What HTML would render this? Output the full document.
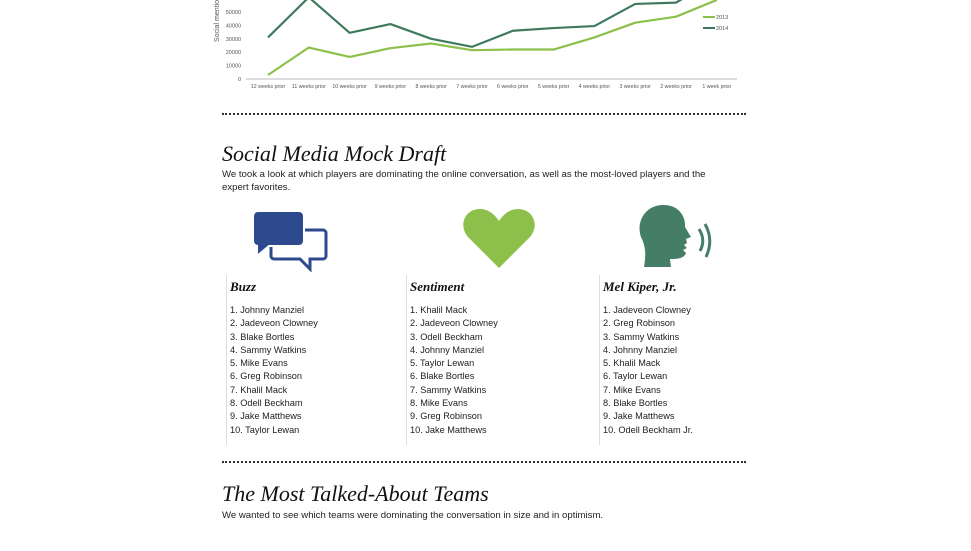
<!DOCTYPE html>
<html><head><meta charset="utf-8"><style>
body{margin:0;width:971px;height:551px;background:#fff;position:relative;overflow:hidden;font-family:"Liberation Sans",sans-serif;color:#222}
.abs{position:absolute}
.dots{position:absolute;left:222px;width:524px;height:0;border-top:2.5px dotted #333}
h2{position:absolute;margin:0;font-family:"Liberation Serif",serif;font-style:italic;font-weight:normal;font-size:22px;color:#111;white-space:nowrap}
.p{position:absolute;font-size:9.6px;line-height:13px;color:#222}
.col{position:absolute;top:275px;height:170px;border-left:1px solid #ddd}
.col h3{margin:4px 0 0 3px;font-family:"Liberation Serif",serif;font-style:italic;font-weight:bold;font-size:13px;color:#111}
.col ol{list-style:none;margin:9px 0 0 3px;padding:0;font-size:9.2px;line-height:13.3px;color:#222}
</style></head><body>
<svg id="chart" class="abs" style="left:0;top:0" width="971" height="100"></svg>
<div class="dots" style="top:113px"></div>
<h2 style="left:222px;top:141px">Social Media Mock Draft</h2>
<div class="p" style="left:222px;top:168px;width:505px">We took a look at which players are dominating the online conversation, as well as the most-loved players and the expert favorites.</div>
<svg class="abs" style="left:250px;top:208px" width="80" height="64">
<path d="M24 22 H73 a3 3 0 0 1 3 3 V48 a3 3 0 0 1 -3 3 H60 V61 L50 51 H24 a3 3 0 0 1 -3 -3 V25 a3 3 0 0 1 3 -3Z" fill="none" stroke="#2e4a8e" stroke-width="3"/>
<path d="M8 3 H49 a5 5 0 0 1 5 5 V33 a5 5 0 0 1 -5 5 H19 L7 48 V38 H8 a5 5 0 0 1 -5 -5 V8 a5 5 0 0 1 5 -5Z" fill="#2e4a8e" stroke="#fff" stroke-width="2"/>
</svg>
<svg class="abs" style="left:462px;top:207px" width="74" height="62">
<path d="M37 61 L6 30 C-4 18 3 2 18 2 C27 2 33 8 37 14 C41 8 47 2 56 2 C71 2 78 18 68 30Z" fill="#8cc04b"/>
</svg>
<svg class="abs" style="left:638px;top:203px" width="80" height="66">
<path d="M6 64 C8 52 8 44 3 34 C-2 20 6 3 24 2 C40 1 48 13 47 24 L53 34 L48 36 L49 40 L46 42 L49 45 L45 47 L48 50 C46 56 38 56 32 56 L33 64Z" fill="#457e66"/>
<path d="M61 26 Q68 37 62 48" fill="none" stroke="#457e66" stroke-width="3"/>
<path d="M67 21 Q76 37 68 54" fill="none" stroke="#457e66" stroke-width="3"/>
</svg>
<div class="col" style="left:226px;width:180px"><h3>Buzz</h3><ol>
<li>1. Johnny Manziel</li><li>2. Jadeveon Clowney</li><li>3. Blake Bortles</li><li>4. Sammy Watkins</li><li>5. Mike Evans</li><li>6. Greg Robinson</li><li>7. Khalil Mack</li><li>8. Odell Beckham</li><li>9. Jake Matthews</li><li>10. Taylor Lewan</li></ol></div>
<div class="col" style="left:406px;width:190px"><h3>Sentiment</h3><ol>
<li>1. Khalil Mack</li><li>2. Jadeveon Clowney</li><li>3. Odell Beckham</li><li>4. Johnny Manziel</li><li>5. Taylor Lewan</li><li>6. Blake Bortles</li><li>7. Sammy Watkins</li><li>8. Mike Evans</li><li>9. Greg Robinson</li><li>10. Jake Matthews</li></ol></div>
<div class="col" style="left:599px;width:150px"><h3>Mel Kiper, Jr.</h3><ol>
<li>1. Jadeveon Clowney</li><li>2. Greg Robinson</li><li>3. Sammy Watkins</li><li>4. Johnny Manziel</li><li>5. Khalil Mack</li><li>6. Taylor Lewan</li><li>7. Mike Evans</li><li>8. Blake Bortles</li><li>9. Jake Matthews</li><li>10. Odell Beckham Jr.</li></ol></div>
<div class="dots" style="top:461px"></div>
<h2 style="left:222px;top:481px">The Most Talked-About Teams</h2>
<div class="p" style="left:222px;top:509px">We wanted to see which teams were dominating the conversation in size and in optimism.</div>
<script>
const categories=["12 weeks prior","11 weeks prior","10 weeks prior","9 weeks prior","8 weeks prior","7 weeks prior","6 weeks prior","5 weeks prior","4 weeks prior","3 weeks prior","2 weeks prior","1 week prior"];
const series2013=[3000,23500,16500,23000,26500,21500,22000,22000,31000,42000,46500,59000];
const series2014=[31000,61000,34500,41000,30000,24000,36000,38000,39500,56000,57000,75000];
const yTicks=[0,10000,20000,30000,40000,50000];
const svg=document.getElementById('chart');
const NS='http://www.w3.org/2000/svg';
const x0=268,dx=40.8,y0=79,ky=13.4/10000;
const X=i=>x0+i*dx, Y=v=>y0-v*ky;
function mk(t,a){const e=document.createElementNS(NS,t);for(const k in a)e.setAttribute(k,a[k]);svg.appendChild(e);return e;}
const ax=mk('line',{x1:246,x2:737,y1:y0,y2:y0,stroke:'#bbb','stroke-width':1});


yTicks.forEach(v=>{const t=mk('text',{x:241,y:Y(v)+2,'text-anchor':'end','font-size':5.5,fill:'#555','font-family':'Liberation Sans'});t.textContent=v;

});
categories.forEach((c,i)=>{const t=mk('text',{x:X(i),y:88,'text-anchor':'middle','font-size':5.3,fill:'#555','font-family':'Liberation Sans'});t.textContent=c;

});
const yt=mk('text',{transform:'translate(219,42) rotate(-90)','font-size':7,fill:'#555','font-family':'Liberation Sans'});yt.textContent='Social mentions';


function line(d,col,name){const p=mk('polyline',{points:d.map((v,i)=>X(i)+','+Y(v)).join(' '),fill:'none',stroke:col,'stroke-width':2.2,'stroke-linejoin':'round'});

}
line(series2014,'#3f7a5e','line-2014');
line(series2013,'#8cc04b','line-2013');
[['2013','#8cc04b',17],['2014','#3f7a5e',28]].forEach(([n,c,y])=>{const l=mk('line',{x1:703,x2:715,y1:y,y2:y,stroke:c,'stroke-width':2});


const t=mk('text',{x:716,y:y+2,'font-size':5.5,fill:'#555','font-family':'Liberation Sans'});t.textContent=n;

});
</script>
</body></html>
